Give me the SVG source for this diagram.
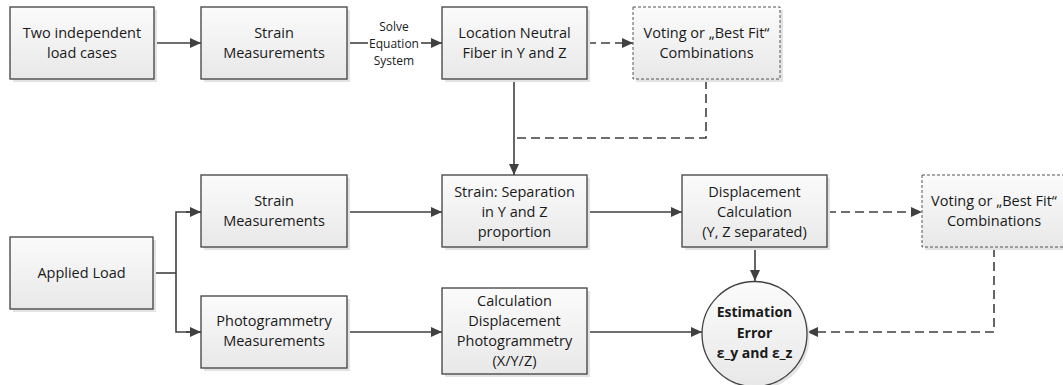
<svg xmlns="http://www.w3.org/2000/svg" width="1063" height="385" viewBox="0 0 1063 385">
<defs>
<linearGradient id="g" x1="0" y1="0" x2="0" y2="1">
<stop offset="0" stop-color="#fbfbfb"/>
<stop offset="1" stop-color="#e8e8e8"/>
</linearGradient>
<marker id="a" markerUnits="userSpaceOnUse" markerWidth="11" markerHeight="10" refX="11" refY="5" orient="auto">
<path d="M0,0 L11,5 L0,10 z" fill="#404040"/>
</marker>
</defs>
<style>
.sh{fill:#e3e3e3;}
.bx{fill:url(#g);stroke:#404040;stroke-width:1.3;}
.db{fill:url(#g);stroke:#555;stroke-width:1;stroke-dasharray:3,2;}
.t{font-family:"Open Sans","Liberation Sans",sans-serif;font-size:14.5px;fill:#1a1a1a;text-anchor:middle;}
.b{font-weight:bold;font-size:14px;}
.s{font-size:12px;}
.c{fill:none;stroke:#404040;stroke-width:1.6;}
.d{stroke-dasharray:9,5;}
</style>
<g id="connectors">
<path class="c" d="M154,43 H201" marker-end="url(#a)"/>
<path class="c" d="M347,43 H368"/>
<path class="c" d="M421,43 H442" marker-end="url(#a)"/>
<text class="t s" x="394" y="31">Solve</text>
<text class="t s" x="394" y="48">Equation</text>
<text class="t s" x="394" y="65">System</text>
<path class="c d" d="M587,43 H633" marker-end="url(#a)"/>
<path class="c d" d="M706,80 V138 H514"/>
<path class="c" d="M514,79 V175" marker-end="url(#a)"/>
<path class="c" d="M153,273 H176"/>
<path class="c" d="M201,212 H176 V332 H201"/>
<path class="c" d="M186,212 H201" marker-end="url(#a)"/>
<path class="c" d="M186,332 H201" marker-end="url(#a)"/>
<path class="c" d="M347,212 H442" marker-end="url(#a)"/>
<path class="c" d="M587,212 H682" marker-end="url(#a)"/>
<path class="c d" d="M827,212 H922" marker-end="url(#a)"/>
<path class="c" d="M755,247 V281" marker-end="url(#a)"/>
<path class="c" d="M347,332 H442" marker-end="url(#a)"/>
<path class="c" d="M587,332 H702" marker-end="url(#a)"/>
<path class="c d" d="M994,248 V332 H807" marker-end="url(#a)"/>
</g>
<g id="n1">
<rect class="sh" x="13" y="10" width="144" height="72"/>
<rect class="bx" x="10" y="7" width="144" height="72"/>
<text class="t" x="82" y="38">Two independent</text>
<text class="t" x="82" y="58">load cases</text>
</g>
<g id="n2">
<rect class="sh" x="204" y="10" width="146" height="72"/>
<rect class="bx" x="201" y="7" width="146" height="72"/>
<text class="t" x="274" y="38">Strain</text>
<text class="t" x="274" y="58">Measurements</text>
</g>
<g id="n3">
<rect class="sh" x="445" y="10" width="145" height="72"/>
<rect class="bx" x="442" y="7" width="145" height="72"/>
<text class="t" x="514.5" y="38">Location Neutral</text>
<text class="t" x="514.5" y="58">Fiber in Y and Z</text>
</g>
<g id="n4">
<rect class="sh" x="636" y="10" width="147" height="72"/>
<rect class="db" x="633" y="7" width="147" height="72"/>
<text class="t" x="706.5" y="38">Voting or „Best Fit“</text>
<text class="t" x="706.5" y="58">Combinations</text>
</g>
<g id="n5">
<rect class="sh" x="13" y="240" width="143" height="72"/>
<rect class="bx" x="10" y="237" width="143" height="72"/>
<text class="t" x="81.5" y="278">Applied Load</text>
</g>
<g id="n6">
<rect class="sh" x="204" y="178" width="146" height="72"/>
<rect class="bx" x="201" y="175" width="146" height="72"/>
<text class="t" x="274" y="206">Strain</text>
<text class="t" x="274" y="226">Measurements</text>
</g>
<g id="n7">
<rect class="sh" x="204" y="299" width="146" height="72"/>
<rect class="bx" x="201" y="296" width="146" height="72"/>
<text class="t" x="274" y="326">Photogrammetry</text>
<text class="t" x="274" y="346">Measurements</text>
</g>
<g id="n8">
<rect class="sh" x="445" y="178" width="145" height="72"/>
<rect class="bx" x="442" y="175" width="145" height="72"/>
<text class="t" x="514.5" y="197">Strain: Separation</text>
<text class="t" x="514.5" y="217">in Y and Z</text>
<text class="t" x="514.5" y="237">proportion</text>
</g>
<g id="n9">
<rect class="sh" x="445" y="291" width="145" height="86"/>
<rect class="bx" x="442" y="288" width="145" height="86"/>
<text class="t" x="514.5" y="306">Calculation</text>
<text class="t" x="514.5" y="326">Displacement</text>
<text class="t" x="514.5" y="346">Photogrammetry</text>
<text class="t" x="514.5" y="366">(X/Y/Z)</text>
</g>
<g id="n10">
<rect class="sh" x="685" y="178" width="145" height="72"/>
<rect class="bx" x="682" y="175" width="145" height="72"/>
<text class="t" x="754.5" y="197">Displacement</text>
<text class="t" x="754.5" y="217">Calculation</text>
<text class="t" x="754.5" y="237">(Y, Z separated)</text>
</g>
<g id="n11">
<rect class="sh" x="925" y="178" width="147" height="72"/>
<rect class="db" x="922" y="175" width="147" height="72"/>
<text class="t" x="994" y="206">Voting or „Best Fit“</text>
<text class="t" x="994" y="226">Combinations</text>
</g>
<g id="n12">
<circle class="sh" cx="757" cy="337" r="52.5"/>
<circle class="bx" cx="754.5" cy="334" r="52.5"/>
<text class="t b" x="754.5" y="317">Estimation</text>
<text class="t b" x="754.5" y="338">Error</text>
<text class="t b" x="754.5" y="358">ε_y and ε_z</text>
</g>
</svg>
